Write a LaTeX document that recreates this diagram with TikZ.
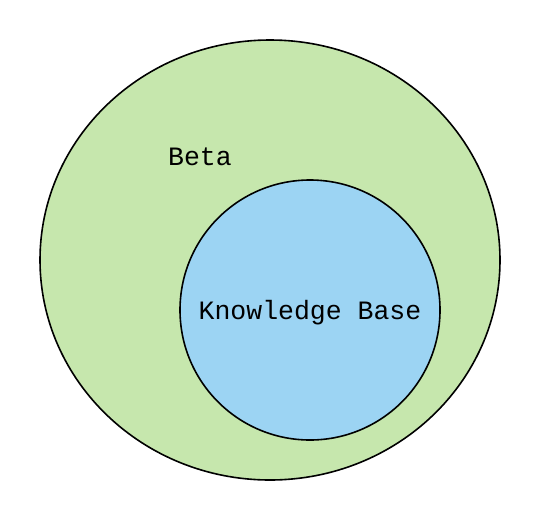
\documentclass[tikz,border=0pt]{standalone}
\usepackage{fontspec}
\setmonofont{Liberation Mono}
\definecolor{betagreen}{HTML}{C6E7AD}
\definecolor{kbblue}{HTML}{9CD4F3}
\begin{document}
\begin{tikzpicture}[x=1pt,y=-1pt,
  region/.style={draw=black, line width=1.6pt},
  lbl/.style={font=\ttfamily\fontsize{26.5}{30}\selectfont, inner sep=0pt}]
\useasboundingbox (0,0) rectangle (540,520);
\path[region, fill=betagreen] (270,260) ellipse [x radius=230, y radius=220];
\node[lbl] (beta) at (200,157) {Beta};
\node[region, fill=kbblue, circle, minimum size=260pt, inner sep=0pt] (kb) at (310,310) {};
\node[lbl] (kbl) at (310,313) {Knowledge Base};
\end{tikzpicture}
\end{document}
